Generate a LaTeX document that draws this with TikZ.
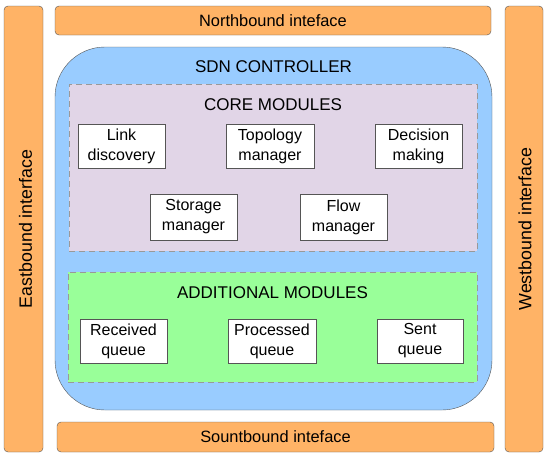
\documentclass[tikz,border=0pt]{standalone}
\usepackage{fontspec}
\setmainfont{Liberation Sans}
\usetikzlibrary{positioning}

\definecolor{ifaceorange}{HTML}{FFB366}
\definecolor{ctrlblue}{HTML}{99CCFF}
\definecolor{corelilac}{HTML}{E1D5E7}
\definecolor{addgreen}{HTML}{99FF99}
\definecolor{edgegrey}{HTML}{555555}

\begin{document}
\begin{tikzpicture}[
	x=1pt, y=-1pt,
	font=\fontsize{16.4}{20}\selectfont,
	iface/.style={
		draw=edgegrey,
		rounded corners=4pt,
		fill=ifaceorange,
		align=center,
		inner sep=0pt,
	},
	controller/.style={
		draw=edgegrey,
		rounded corners=50pt,
		fill=ctrlblue,
		inner sep=0pt,
	},
	group/.style={
		draw=gray!80,
		dashed,
		dash pattern=on 6pt off 4pt,
		inner sep=0pt,
	},
	module/.style={
		draw=edgegrey,
		fill=white,
		align=center,
		inner sep=0pt,
		minimum height=44pt,
		font=\fontsize{16}{20}\selectfont,
	},
	heading/.style={font=\fontsize{17}{20}\selectfont},
	sidelabel/.style={rotate=90, font=\fontsize{17.8}{20}\selectfont},
]

\useasboundingbox (0,0) rectangle (550,458);

% --- Interfaces ---
\node[iface, minimum width=436pt, minimum height=29pt] (north) at (273,20.5) {Northbound inteface};
\node[iface, minimum width=437pt, minimum height=30pt] (south) at (275.5,437) {Sountbound inteface};
\node[iface, minimum width=39pt, minimum height=446pt] (east) at (23.5,229) {};
\node[sidelabel] at ([xshift=2pt]east.center) {Eastbound interface};
\node[iface, minimum width=38pt, minimum height=446pt] (west) at (524,229) {};
\node[sidelabel] at ([xshift=1pt]west.center) {Westbound interface};

% --- Controller ---
\node[controller, minimum width=437pt, minimum height=363pt] (ctrl) at (273.5,228.5) {};
\node[heading] (ctrltitle) at (273.5,67) {SDN CONTROLLER};

% --- Core modules ---
\node[group, fill=corelilac, minimum width=408pt, minimum height=167pt] (core) at (273,167.5) {};
\node[heading] (coretitle) at (273,105) {CORE MODULES};

\node[module, minimum width=87pt] (link) at (121.5,146) {Link\\discovery};
\node[module, minimum width=88pt] (topo) at (270,146) {Topology\\manager};
\node[module, minimum width=87pt] (decision) at (418.5,146) {Decision\\making};
\node[module, minimum width=87pt, minimum height=46pt] (storage) at (193.5,217) {Storage\\manager};
\node[module, minimum width=87pt, minimum height=46pt] (flow) at (343.5,217) {Flow\\manager};

% --- Additional modules ---
\node[group, fill=addgreen, minimum width=409pt, minimum height=110pt] (extra) at (272.5,327) {};
\node[heading] (extratitle) at (272.5,293) {ADDITIONAL MODULES};

\node[module, minimum width=87pt] (received) at (123.5,341) {Received\\queue};
\node[module, minimum width=88pt] (processed) at (272,341) {Processed\\queue};
\node[module, minimum width=86pt] (sent) at (420,341) {Sent\\queue};

\end{tikzpicture}
\end{document}
